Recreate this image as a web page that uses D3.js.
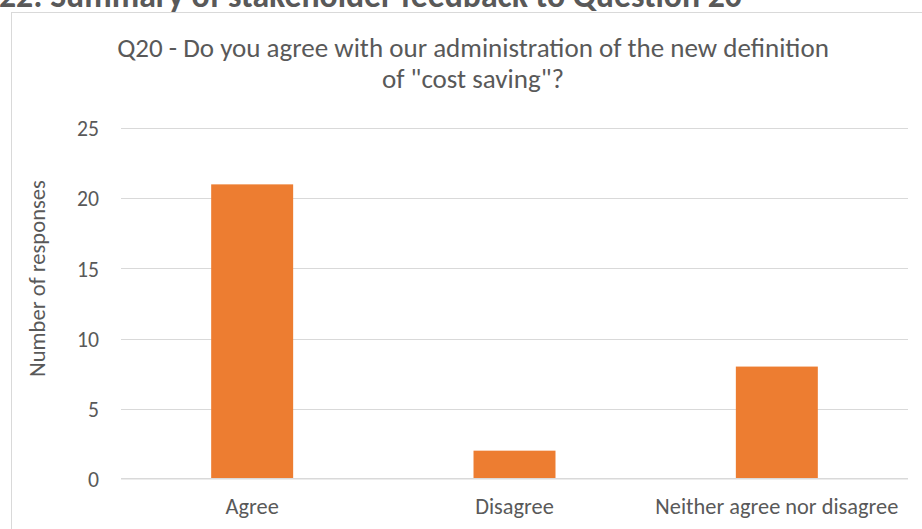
<!DOCTYPE html>
<html>
<head>
<meta charset="utf-8">
<script src="https://cdn.jsdelivr.net/npm/d3@7"></script>
<style>
  html, body { margin: 0; padding: 0; background: #fff; }
  svg { display: block; }
  text { font-family: Carlito, Calibri, Lato, "Open Sans", sans-serif; fill: #595959; }
</style>
</head>
<body>
<svg id="chart" width="922" height="529"></svg>
<script>
// Survey responses to Q20
const categories = ["Agree", "Disagree", "Neither agree nor disagree"];
const responses = [21, 2, 8];
const yTicks = [0, 5, 10, 15, 20, 25];
const headerText = "22: Summary of stakeholder feedback to Question 20";
const titleLines = ["Q20 - Do you agree with our administration of the new definition", "of \"cost saving\"?"];
const yAxisTitle = "Number of responses";

const W = 922, H = 529;
const plot = { left: 121, right: 908, top: 128.3, bottom: 478.7 };

const svg = d3.select("#chart");

// scale a text element's font so its rendered width hits a target
function fitFont(sel, target, start) {
  sel.style("font-size", start + "px");
  const w = sel.node().getComputedTextLength();
  const size = start * target / w;
  sel.style("font-size", size + "px");
  return size;
}

// page heading above the chart frame (partly clipped at the top edge)
const header = svg.append("text")
  .attr("x", -1).attr("y", 7)
  .style("font-weight", "bold")
  .text(headerText);
fitFont(header, 743, 22);

// chart frame
svg.append("rect")
  .attr("x", 11.5).attr("y", 12.5)
  .attr("width", 940).attr("height", 560)
  .attr("fill", "none").attr("stroke", "#d9d9d9").attr("stroke-width", 1);

const x = d3.scaleBand()
  .domain(categories)
  .range([plot.left, plot.right])
  .paddingInner(0.6875).paddingOuter(0.34375);

const y = d3.scaleLinear()
  .domain([0, 25])
  .range([plot.bottom, plot.top]);

// horizontal gridlines
svg.append("g")
  .selectAll("line")
  .data(yTicks.filter(d => d !== 0))
  .join("line")
  .attr("x1", plot.left).attr("x2", plot.right)
  .attr("y1", d => Math.round(y(d)) + 0.5).attr("y2", d => Math.round(y(d)) + 0.5)
  .attr("stroke", "#d9d9d9").attr("stroke-width", 1);

// bars
svg.append("g")
  .selectAll("rect")
  .data(categories.map((c, i) => ({ c, v: responses[i] })))
  .join("rect")
  .attr("x", d => x(d.c))
  .attr("width", x.bandwidth())
  .attr("y", d => y(d.v))
  .attr("height", d => y(0) - y(d.v))
  .attr("fill", "#ED7D31");

// baseline
svg.append("line")
  .attr("x1", plot.left).attr("x2", plot.right)
  .attr("y1", y(0)).attr("y2", y(0))
  .attr("stroke", "#d9d9d9").attr("stroke-width", 1.5);

// y axis tick labels
const yAxis = d3.axisLeft(y).tickValues(yTicks).tickSize(0).tickPadding(0);
const yG = svg.append("g").attr("transform", `translate(99,0)`).call(yAxis);
yG.select(".domain").remove();
const probe = yG.selectAll("text").filter(d => d === 25);
const tickSize = fitFont(probe, 22, 20);
yG.selectAll("text")
  .style("font-size", tickSize + "px")
  .attr("fill", null)
  .attr("dy", "0.35em");

// category labels
const xAxis = d3.axisBottom(x).tickSize(0).tickPadding(0);
const xG = svg.append("g").attr("transform", `translate(0,514)`).call(xAxis);
xG.select(".domain").remove();
const longLabel = xG.selectAll("text").filter(d => d === categories[2]);
const catSize = fitFont(longLabel, 243, 20);
xG.selectAll("text")
  .style("font-size", catSize + "px")
  .attr("fill", null)
  .attr("dy", 0);

// y axis title
const yt = svg.append("text")
  .attr("transform", "translate(45,278.5) rotate(-90)")
  .attr("text-anchor", "middle")
  .text(yAxisTitle);
fitFont(yt, 197, 20);

// chart title
const t1 = svg.append("text")
  .attr("x", 473).attr("y", 57)
  .attr("text-anchor", "middle")
  .text(titleLines[0]);
const titleSize = fitFont(t1, 712, 24);
svg.append("text")
  .attr("x", 473).attr("y", 88)
  .attr("text-anchor", "middle")
  .style("font-size", titleSize + "px")
  .text(titleLines[1]);
</script>
</body>
</html>
